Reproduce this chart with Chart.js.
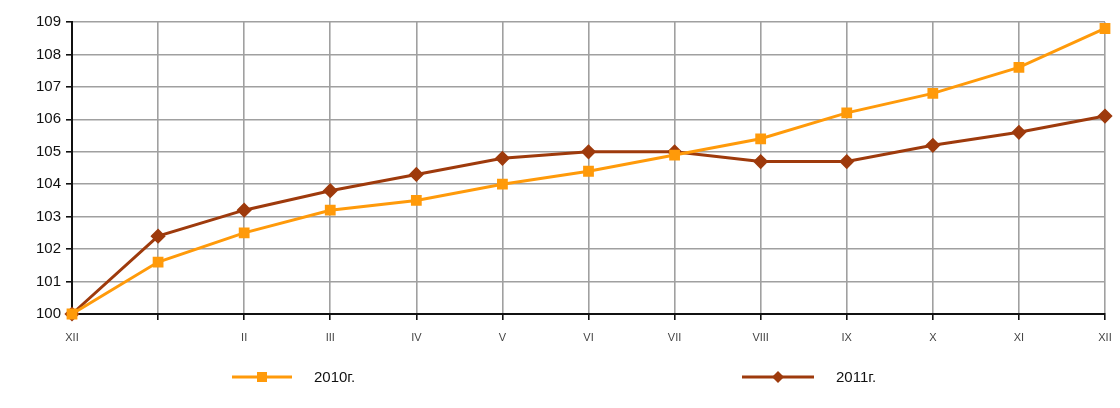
<!DOCTYPE html>
<html>
<head>
<meta charset="utf-8">
<script src="https://cdn.jsdelivr.net/npm/chart.js@4/dist/chart.umd.min.js"></script>
<style>
  html, body { margin: 0; padding: 0; background: #fff; }
  #wrap { width: 1120px; height: 408px; position: relative; }
</style>
</head>
<body>
<div id="wrap"><canvas id="indexChart"></canvas></div>
<script>
'use strict';

// Month labels (first point is December of previous year)
const months = ['XII', '', 'II', 'III', 'IV', 'V', 'VI', 'VII', 'VIII', 'IX', 'X', 'XI', 'XII'];
const series2010 = [100, 101.6, 102.5, 103.2, 103.5, 104.0, 104.4, 104.9, 105.4, 106.2, 106.8, 107.6, 108.8];
const series2011 = [100, 102.4, 103.2, 103.8, 104.3, 104.8, 105.0, 105.0, 104.7, 104.7, 105.2, 105.6, 106.1];
const seriesLabels = ['2010г.', '2011г.'];
const yMin = 100, yMax = 109;

const ORANGE = '#FF9A0A';
const BROWN = '#9E3A0C';

// Simple legend drawn under the plot: line + marker + label
const bottomLegend = {
    id: 'bottomLegend',
    afterDraw(chart) {
        const ctx = chart.ctx;
        const spots = [232, 742];  // left edge of each legend line
        const y = 377;
        chart.data.datasets.forEach((ds, i) => {
            const x0 = spots[i];
            const len = i === 0 ? 60 : 72;
            ctx.save();
            ctx.strokeStyle = ds.borderColor;
            ctx.lineWidth = 3;
            ctx.beginPath();
            ctx.moveTo(x0, y);
            ctx.lineTo(x0 + len, y);
            ctx.stroke();
            ctx.fillStyle = ds.borderColor;
            const cx = x0 + len / 2;
            if (ds.pointStyle === 'rectRot') {
                ctx.beginPath();
                ctx.moveTo(cx, y - 6);
                ctx.lineTo(cx + 6, y);
                ctx.lineTo(cx, y + 6);
                ctx.lineTo(cx - 6, y);
                ctx.closePath();
                ctx.fill();
            } else {
                ctx.fillRect(cx - 5, y - 5, 10, 10);
            }
            ctx.fillStyle = '#111';
            ctx.font = '15px "Liberation Sans", Arial, sans-serif';
            ctx.textBaseline = 'middle';
            ctx.fillText(ds.label, x0 + len + 22, y + 1);
            ctx.restore();
        });
    }
};

const ctx = document.getElementById('indexChart').getContext('2d');
const indexChart = new Chart(ctx, {
    type: 'line',
    data: {
        labels: months,
        datasets: [{
            label: seriesLabels[0],
            data: series2010,
            borderColor: ORANGE,
            backgroundColor: ORANGE,
            borderWidth: 3,
            pointStyle: 'rect',
            pointRadius: 5.5,
            pointHoverRadius: 5.5,
            tension: 0,
            clip: false
        }, {
            label: seriesLabels[1],
            data: series2011,
            borderColor: BROWN,
            backgroundColor: BROWN,
            borderWidth: 3,
            pointStyle: 'rectRot',
            pointRadius: 5.5,
            pointHoverRadius: 5.5,
            tension: 0,
            clip: false
        }]
    },
    options: {
        responsive: true,
        maintainAspectRatio: false,
        animation: false,
        layout: { padding: { top: 22, right: 15, left: 0, bottom: 0 } },
        plugins: {
            legend: { display: false },
            tooltip: { enabled: false }
        },
        scales: {
            x: {
                offset: false,
                grid: {
                    color: '#a0a0a0',
                    lineWidth: 1.6,
                    tickColor: '#111',
                    tickLength: 6
                },
                border: { color: '#111', width: 2 },
                ticks: {
                    color: '#444',
                    font: { family: '"Liberation Sans", Arial, sans-serif', size: 11 },
                    padding: 11,
                    maxRotation: 0,
                    autoSkip: false
                },
                afterFit(scale) {
                    scale.height = 94;
                    scale.paddingRight = 0;
                    scale.paddingLeft = 0;
                }
            },
            y: {
                min: yMin,
                max: yMax,
                grid: {
                    color: '#a0a0a0',
                    lineWidth: 1.6,
                    tickColor: '#111',
                    tickLength: 6
                },
                border: { color: '#111', width: 2 },
                ticks: {
                    stepSize: 1,
                    color: '#111',
                    font: { family: '"Liberation Sans", Arial, sans-serif', size: 15 },
                    padding: 5
                },
                afterFit(scale) { scale.width = 72; }
            }
        }
    },
    plugins: [bottomLegend]
});
</script>
</body>
</html>
